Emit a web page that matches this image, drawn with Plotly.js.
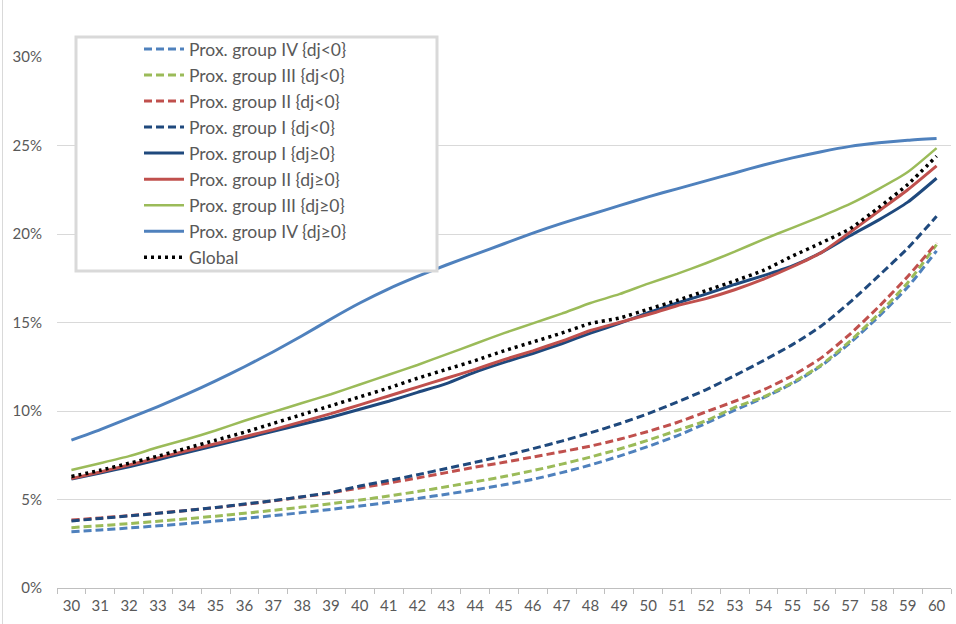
<!DOCTYPE html>
<html>
<head>
<meta charset="utf-8">
<script src="https://cdn.plot.ly/plotly-3.0.1.min.js"></script>
<style>html,body{margin:0;padding:0;background:#fff;}#chart{width:956px;height:624px;}</style>
</head>
<body>
<div id="chart"></div>
<script>
const ages = ["30","31","32","33","34","35","36","37","38","39","40","41","42","43","44","45","46","47","48","49","50","51","52","53","54","55","56","57","58","59","60"];

const groupIV_neg  = [3.18,3.28,3.39,3.51,3.64,3.78,3.93,4.09,4.26,4.44,4.63,4.84,5.06,5.30,5.55,5.83,6.14,6.52,6.95,7.45,8.00,8.60,9.30,10.05,10.75,11.55,12.55,13.85,15.35,17.00,19.05];
const groupIII_neg = [3.41,3.52,3.64,3.77,3.91,4.06,4.22,4.39,4.57,4.76,4.97,5.20,5.45,5.72,6.00,6.30,6.63,7.00,7.40,7.85,8.35,8.90,9.45,10.20,10.80,11.60,12.60,13.95,15.50,17.25,19.40];
const groupII_neg  = [3.84,3.96,4.09,4.23,4.38,4.54,4.72,4.92,5.14,5.38,5.65,5.93,6.22,6.52,6.83,7.10,7.40,7.70,8.02,8.40,8.85,9.35,9.95,10.55,11.20,12.00,13.00,14.35,15.90,17.60,19.50];
const groupI_neg   = [3.79,3.93,4.07,4.22,4.38,4.55,4.74,4.94,5.16,5.40,5.76,6.07,6.40,6.75,7.10,7.47,7.87,8.30,8.77,9.28,9.85,10.50,11.20,12.00,12.85,13.75,14.80,16.15,17.65,19.20,21.00];
const groupI_pos   = [6.15,6.50,6.85,7.25,7.65,8.05,8.45,8.85,9.25,9.65,10.10,10.55,11.05,11.55,12.20,12.75,13.25,13.80,14.40,14.95,15.55,16.10,16.60,17.15,17.65,18.20,18.95,19.90,20.80,21.80,23.15];
const groupII_pos  = [6.18,6.55,6.95,7.35,7.75,8.15,8.55,8.95,9.40,9.85,10.35,10.85,11.35,11.85,12.35,12.90,13.40,13.95,14.55,15.00,15.45,15.95,16.35,16.85,17.45,18.15,18.95,20.10,21.30,22.50,23.85];
const groupIII_pos = [6.67,7.05,7.45,7.95,8.40,8.90,9.45,9.95,10.45,10.95,11.50,12.05,12.60,13.20,13.80,14.40,14.95,15.50,16.10,16.60,17.20,17.75,18.35,19.00,19.70,20.35,21.00,21.70,22.55,23.50,24.85];
const groupIV_pos  = [8.35,8.95,9.60,10.25,10.95,11.70,12.50,13.35,14.25,15.20,16.10,16.90,17.60,18.25,18.85,19.45,20.05,20.60,21.10,21.60,22.10,22.55,23.00,23.45,23.90,24.30,24.65,24.95,25.15,25.30,25.40];
const globalRate   = [6.30,6.65,7.05,7.45,7.90,8.35,8.80,9.30,9.80,10.30,10.80,11.30,11.85,12.35,12.85,13.40,13.90,14.40,14.95,15.25,15.75,16.25,16.80,17.35,17.95,18.75,19.50,20.30,21.50,22.80,24.40];

const seriesNames = ["Prox. group IV {dj<0}","Prox. group III {dj<0}","Prox. group II {dj<0}","Prox. group I {dj<0}","Prox. group I {dj≥0}","Prox. group II {dj≥0}","Prox. group III {dj≥0}","Prox. group IV {dj≥0}","Global"];
const yTickVals = [0,5,10,15,20,25,30];
const yTickText = ["0%","5%","10%","15%","20%","25%","30%"];

const BLUE = "#4F81BD", GREEN = "#9BBB59", RED = "#C0504D", NAVY = "#1F497D";
const DASH = "8px,4px";

function tr(y, name, color, dash, width) {
  return {x: ages, y: y, name: name, type: "scatter", mode: "lines",
          legendgroup: name,
          line: {color: color, width: width, dash: dash, shape: "spline", smoothing: 0.6},
          hoverinfo: "skip"};
}

const data = [
  tr(groupIV_neg,  seriesNames[0], BLUE,  DASH, 3),
  tr(groupIII_neg, seriesNames[1], GREEN, DASH, 3),
  tr(groupII_neg,  seriesNames[2], RED,   DASH, 3),
  tr(groupI_neg,   seriesNames[3], NAVY,  DASH, 3),
  tr(groupI_pos,   seriesNames[4], NAVY,  "solid", 3),
  tr(groupII_pos,  seriesNames[5], RED,   "solid", 3),
  tr(groupIII_pos, seriesNames[6], GREEN, "solid", 2.5),
  tr(groupIV_pos,  seriesNames[7], BLUE,  "solid", 3),
  tr(globalRate,   seriesNames[8], "#000000", "3px,4px", 3.5)
];

const W = 956, H = 624, L = 57, R = 5, T = 57, B = 36;
const pw = W - L - R, ph = H - T - B;
const px = v => (v - L) / pw;
const py = v => (H - B - v) / ph;

const layout = {
  width: W, height: H,
  margin: {l: L, r: R, t: T, b: B, pad: 0},
  paper_bgcolor: "#ffffff", plot_bgcolor: "#ffffff",
  font: {family: "Lato, 'Open Sans', sans-serif", size: 15, color: "#595959"},
  showlegend: true,
  xaxis: {
    type: "category", range: [-0.5, 30.5],
    showgrid: false, zeroline: false,
    showline: true, linecolor: "#bfbfbf", linewidth: 1,
    ticks: "outside", tickson: "boundaries", ticklen: 5, tickcolor: "#bfbfbf",
    ticklabelstandoff: 4,
    tickfont: {size: 15, color: "#595959"},
    fixedrange: true
  },
  yaxis: {
    range: [0, 30], tickmode: "array", tickvals: yTickVals, ticktext: yTickText,
    showgrid: true, gridcolor: "#d9d9d9", gridwidth: 1,
    zeroline: false, showline: false, ticks: "",
    ticklabelstandoff: 14,
    tickfont: {size: 15, color: "#595959"},
    fixedrange: true
  },
  legend: {
    x: px(139), y: py(31), xanchor: "left", yanchor: "top",
    bgcolor: "rgba(0,0,0,0)", borderwidth: 0,
    traceorder: "grouped", tracegroupgap: 0.3,
    font: {size: 17.5, color: "#595959"},
    itemwidth: 40
  },
  shapes: [{
    type: "rect", xref: "paper", yref: "paper", layer: "above",
    x0: px(76), x1: px(437), y0: py(271), y1: py(37),
    line: {color: "#d9d9d9", width: 3}, fillcolor: "#ffffff"
  }, {
    type: "line", xref: "paper", yref: "paper", layer: "below",
    x0: px(2.5), x1: px(2.5), y0: py(624), y1: py(0),
    line: {color: "#d9d9d9", width: 1}
  }]
};

Plotly.newPlot("chart", data, layout, {displayModeBar: false, staticPlot: true});
</script>
</body>
</html>
